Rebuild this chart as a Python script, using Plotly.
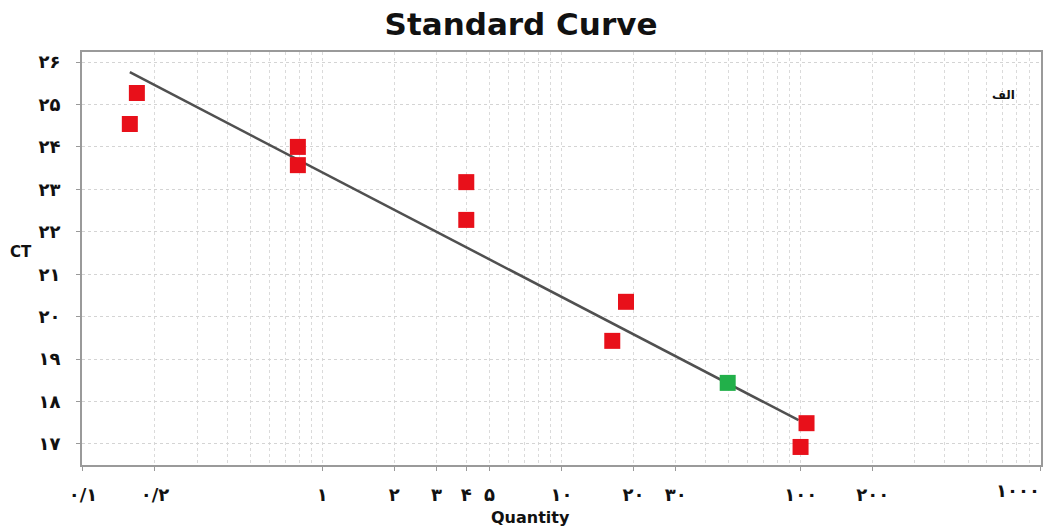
import plotly.graph_objects as go

# Data
std_qty = [0.168, 0.157, 0.791, 0.791, 4.0, 4.0, 18.6, 16.3, 105.7, 99.8]
std_ct = [25.27, 24.54, 24.00, 23.57, 23.17, 22.28, 20.35, 19.43, 17.49, 16.93]
unk_qty = [49.5]
unk_ct = [18.44]
fit_qty = [0.157, 97.9]
fit_ct = [25.76, 17.56]

x_tickvals = [0.1, 0.2, 1, 2, 3, 4, 5, 10, 20, 30, 100, 200, 1000]
x_ticktext = ["۰/۱", "۰/۲", "۱", "۲", "۳", "۴", "۵", "۱۰", "۲۰", "۳۰", "۱۰۰", "۲۰۰", "۱۰۰۰"]
y_tickvals = [17, 18, 19, 20, 21, 22, 23, 24, 25, 26]
y_ticktext = ["۱۷", "۱۸", "۱۹", "۲۰", "۲۱", "۲۲", "۲۳", "۲۴", "۲۵", "۲۶"]
minor_x = [m * 10 ** e for e in (-1, 0, 1, 2) for m in range(1, 10)] + [1000]

W, H = 1045, 529
L, R, T, B = 82, 2, 52, 64
pw, ph = W - L - R, H - T - B

fig = go.Figure()
fig.add_trace(go.Scatter(x=fit_qty, y=fit_ct, mode="lines",
                         line=dict(color="#505050", width=2.5), showlegend=False))
fig.add_trace(go.Scatter(x=std_qty, y=std_ct, mode="markers",
                         marker=dict(symbol="square", size=16, color="#e8101a"),
                         showlegend=False))
fig.add_trace(go.Scatter(x=unk_qty, y=unk_ct, mode="markers",
                         marker=dict(symbol="square", size=16, color="#22b04a"),
                         showlegend=False))

tickfont = dict(family="DejaVu Sans", size=18, color="#111", weight="bold")
# last x label sits flush against the right edge in the reference: drawn as annotation
x_ticktext_axis = x_ticktext[:-1] + [""]
fig.update_xaxes(type="log", range=[-1.004, 3.004],
                 tickvals=x_tickvals, ticktext=x_ticktext_axis, tickfont=tickfont,
                 ticks="outside", ticklen=4, tickcolor="#999", ticklabelstandoff=8,
                 showline=True, linecolor="#9a9a9a", linewidth=2, mirror=True,
                 showgrid=False, zeroline=False,
                 minor=dict(tickvals=minor_x, showgrid=True, gridcolor="#dadada",
                            griddash="dot", gridwidth=1, ticks=""))
fig.update_yaxes(range=[16.505, 26.236],
                 tickvals=y_tickvals, ticktext=y_ticktext, tickfont=tickfont,
                 ticks="outside", ticklen=4, tickcolor="#999", ticklabelstandoff=12,
                 showline=True, linecolor="#9a9a9a", linewidth=2, mirror=True,
                 showgrid=True, gridcolor="#d4d4d4", griddash="dot", gridwidth=1,
                 zeroline=False)

fig.update_layout(
    width=W, height=H,
    margin=dict(l=L, r=R, t=T, b=B),
    paper_bgcolor="white", plot_bgcolor="white",
    title=dict(text="Standard Curve", x=521 / W, xanchor="center",
               y=1 - 24 / H, yanchor="middle", yref="container",
               font=dict(family="DejaVu Sans", size=31, color="#111", weight="bold")),
    annotations=[
        dict(text=x_ticktext[-1], xref="paper", yref="paper",
             x=(W - 1 - L) / pw, y=(H - B - 490) / ph, showarrow=False,
             xanchor="right", yanchor="middle", font=tickfont),
        dict(text="CT", xref="paper", yref="paper",
             x=(21 - L) / pw, y=(H - B - 252) / ph, showarrow=False,
             xanchor="center", yanchor="middle",
             font=dict(family="DejaVu Sans", size=15, color="#111", weight="bold")),
        dict(text="Quantity", xref="paper", yref="paper",
             x=(531 - L) / pw, y=(H - B - 517) / ph, showarrow=False,
             xanchor="center", yanchor="middle",
             font=dict(family="DejaVu Sans", size=16, color="#111", weight="bold")),
        dict(text="الف", xref="paper", yref="paper",
             x=(1005 - L) / pw, y=(H - B - 95) / ph, showarrow=False,
             xanchor="center", yanchor="middle",
             font=dict(family="DejaVu Sans", size=12, color="#111", weight="bold")),
    ],
)

fig.write_html("out.html")
